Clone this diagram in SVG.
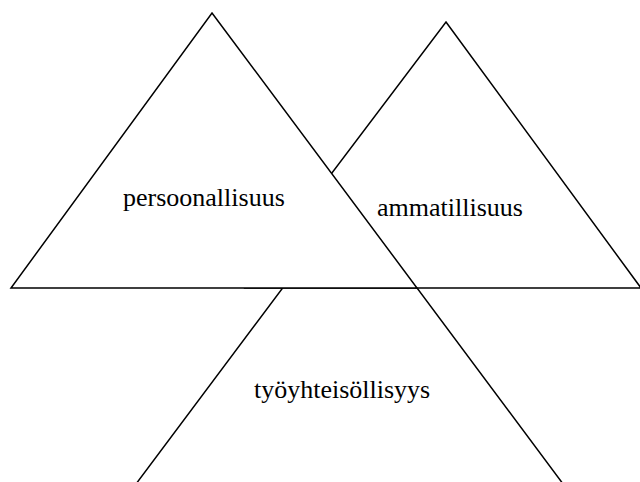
<svg xmlns="http://www.w3.org/2000/svg" width="640" height="482" viewBox="0 0 640 482">
<style>
.tri{fill:#fff;stroke:#000;stroke-width:1.5;stroke-linejoin:miter}
.lbl{font-family:'Liberation Serif','Times New Roman',serif;font-size:26px;fill:#000}
</style>
<rect width="640" height="482" fill="#fff"/>
<g id="tyoyhteisollisyys">
<polygon class="tri" points="350,198 575,500 124,500"/>
<text class="lbl" x="254" y="398">työyhteisöllisyys</text>
</g>
<g id="ammatillisuus">
<polygon class="tri" points="446,22 641,288 245,288"/>
<text class="lbl" x="377" y="216">ammatillisuus</text>
</g>
<g id="persoonallisuus">
<polygon class="tri" points="212,13 417,288 11,288"/>
<text class="lbl" x="123" y="206">persoonallisuus</text>
</g>
<g id="connectors"></g>
</svg>
